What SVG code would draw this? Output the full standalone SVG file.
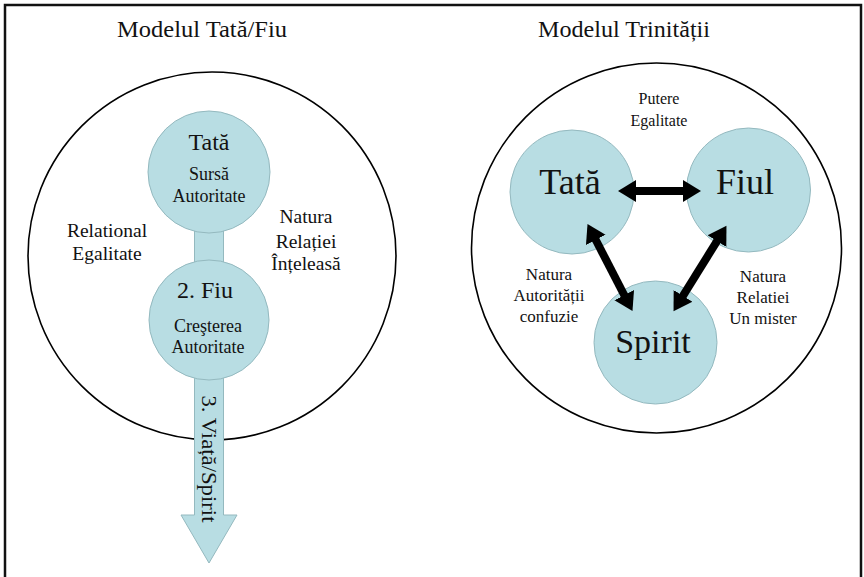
<svg xmlns="http://www.w3.org/2000/svg" width="864" height="577" viewBox="0 0 864 577">
<style>
  text { font-family: "Liberation Serif", "DejaVu Serif", serif; fill: #121212; text-anchor: middle; }
  .title { font-size: 24px; }
  .big { font-size: 24px; }
  .huge { font-size: 36px; }
  .sub { font-size: 18px; }
  .side { font-size: 19.5px; }
  .lab { font-size: 17px; }
  .small { font-size: 16px; }
  .node { fill: #b8dde3; stroke: #94b9bf; stroke-width: 1; }
  .outer { fill: #ffffff; stroke: #000000; stroke-width: 1.6; }
  .conn { fill: none; stroke: #000000; stroke-width: 8; marker-start: url(#ah); marker-end: url(#ah); }
</style>
<defs>
  <marker id="ah" markerUnits="userSpaceOnUse" markerWidth="20" markerHeight="24" viewBox="0 -12 20 24" refX="1" refY="0" orient="auto-start-reverse">
    <path d="M0,-11 L18,0 L0,11 Z" fill="#000000"/>
  </marker>
</defs>
<rect x="0" y="0" width="864" height="577" fill="#ffffff"/>
<path d="M5,590 L5,5 L861,5 L861,590" fill="none" stroke="#111111" stroke-width="2.5"/>

<!-- Left model -->
<g id="left-title"><text class="title" x="202" y="37" textLength="170" lengthAdjust="spacingAndGlyphs">Modelul Tată/Fiu</text></g>
<g id="left-outer"><circle class="outer" cx="212" cy="256" r="184"/></g>
<g id="left-link"><rect class="node" x="194.5" y="225" width="29" height="42"/></g>
<g id="left-spirit-arrow">
  <path class="node" d="M194.5,372 L223.5,372 L223.5,515 L237,515 L209,563 L181,515 L194.5,515 Z"/>
  <text x="0" y="0" transform="translate(202,459) rotate(90)" style="font-size:21px" textLength="127" lengthAdjust="spacingAndGlyphs">3. Viață/Spirit</text>
</g>
<g id="left-tata">
  <circle class="node" cx="209" cy="172" r="61"/>
  <text class="big" x="209" y="150">Tată</text>
  <text class="sub" x="209" y="180">Sursă</text>
  <text class="sub" x="209" y="202">Autoritate</text>
</g>
<g id="left-fiu">
  <circle class="node" cx="209" cy="320" r="60"/>
  <text class="big" x="205" y="298">2. Fiu</text>
  <text class="sub" x="208" y="332">Creşterea</text>
  <text class="sub" x="208" y="353">Autoritate</text>
</g>
<g id="left-label-relational">
  <text class="side" x="107" y="237">Relational</text>
  <text class="side" x="107" y="260">Egalitate</text>
</g>
<g id="left-label-natura">
  <text class="side" x="306" y="223">Natura</text>
  <text class="side" x="306" y="248">Relației</text>
  <text class="side" x="306" y="270">Înțeleasă</text>
</g>

<!-- Right model -->
<g id="right-title"><text class="title" x="624" y="37" textLength="172" lengthAdjust="spacingAndGlyphs">Modelul Trinității</text></g>
<g id="right-outer"><circle class="outer" cx="656.5" cy="248" r="185"/></g>
<g id="right-label-putere">
  <text class="small" x="659" y="104">Putere</text>
  <text class="small" x="659" y="126">Egalitate</text>
</g>
<g id="right-tata">
  <circle class="node" cx="572" cy="192" r="62"/>
  <text class="huge" x="570" y="194">Tată</text>
</g>
<g id="right-fiul">
  <circle class="node" cx="748.5" cy="190" r="62"/>
  <text class="huge" x="745" y="194">Fiul</text>
</g>
<g id="right-spirit">
  <circle class="node" cx="655.5" cy="342.5" r="61.5"/>
  <text class="huge" x="653" y="353" style="font-size:34px">Spirit</text>
</g>
<g id="right-label-autoritatii">
  <text class="lab" x="549" y="280">Natura</text>
  <text class="lab" x="549" y="301">Autorității</text>
  <text class="lab" x="549" y="322">confuzie</text>
</g>
<g id="right-label-relatiei">
  <text class="lab" x="763" y="282">Natura</text>
  <text class="lab" x="763" y="303">Relatiei</text>
  <text class="lab" x="763" y="324">Un mister</text>
</g>

<g id="connectors">
  <path class="conn" d="M635,191 L684,191"/>
  <path class="conn" d="M595.3,239 L624.7,296"/>
  <path class="conn" d="M717.5,240.3 L682.5,296.7"/>
</g>
</svg>
